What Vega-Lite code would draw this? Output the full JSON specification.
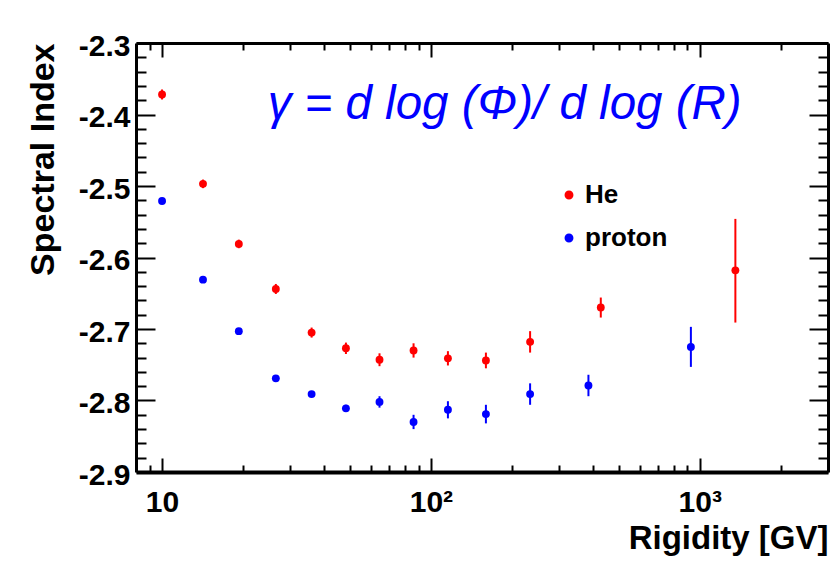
{
  "$schema": "https://vega.github.io/schema/vega-lite/v6.json",
  "width": 692,
  "height": 429,
  "autosize": {"type": "none"},
  "padding": {"left": 136, "top": 43, "right": 5, "bottom": 89},
  "background": "white",
  "config": {
    "view": {"stroke": null},
    "font": "Liberation Sans",
    "axis": {"grid": false, "labelFont": "Liberation Sans", "titleFont": "Liberation Sans", "labelColor": "black", "titleColor": "black", "domainColor": "black", "tickColor": "black", "labelFlush": false},
    "legend": {"labelFont": "Liberation Sans", "labelFontSize": 26, "labelFontWeight": "bold", "labelColor": "black"}
  },
  "data": {
    "values": [
      {"species": "He", "R": 10, "v": -2.372, "lo": -2.379, "hi": -2.365},
      {"species": "He", "R": 14.2, "v": -2.497, "lo": -2.503, "hi": -2.491},
      {"species": "He", "R": 19.3, "v": -2.581, "lo": -2.587, "hi": -2.575},
      {"species": "He", "R": 26.5, "v": -2.644, "lo": -2.651, "hi": -2.637},
      {"species": "He", "R": 36.0, "v": -2.705, "lo": -2.712, "hi": -2.698},
      {"species": "He", "R": 48.3, "v": -2.727, "lo": -2.735, "hi": -2.719},
      {"species": "He", "R": 64.4, "v": -2.743, "lo": -2.752, "hi": -2.734},
      {"species": "He", "R": 86.2, "v": -2.730, "lo": -2.740, "hi": -2.720},
      {"species": "He", "R": 115.7, "v": -2.741, "lo": -2.751, "hi": -2.731},
      {"species": "He", "R": 160.2, "v": -2.744, "lo": -2.755, "hi": -2.733},
      {"species": "He", "R": 233.9, "v": -2.718, "lo": -2.733, "hi": -2.703},
      {"species": "He", "R": 428.5, "v": -2.670, "lo": -2.684, "hi": -2.656},
      {"species": "He", "R": 1357, "v": -2.618, "lo": -2.691, "hi": -2.546},
      {"species": "proton", "R": 10, "v": -2.521, "lo": -2.525, "hi": -2.517},
      {"species": "proton", "R": 14.2, "v": -2.631, "lo": -2.635, "hi": -2.627},
      {"species": "proton", "R": 19.3, "v": -2.703, "lo": -2.707, "hi": -2.699},
      {"species": "proton", "R": 26.5, "v": -2.769, "lo": -2.773, "hi": -2.765},
      {"species": "proton", "R": 36.0, "v": -2.791, "lo": -2.795, "hi": -2.787},
      {"species": "proton", "R": 48.3, "v": -2.811, "lo": -2.816, "hi": -2.806},
      {"species": "proton", "R": 64.4, "v": -2.802, "lo": -2.810, "hi": -2.794},
      {"species": "proton", "R": 86.2, "v": -2.830, "lo": -2.840, "hi": -2.820},
      {"species": "proton", "R": 115.7, "v": -2.813, "lo": -2.825, "hi": -2.801},
      {"species": "proton", "R": 160.2, "v": -2.819, "lo": -2.832, "hi": -2.806},
      {"species": "proton", "R": 233.9, "v": -2.791, "lo": -2.806, "hi": -2.776},
      {"species": "proton", "R": 385.5, "v": -2.779, "lo": -2.794, "hi": -2.764},
      {"species": "proton", "R": 927, "v": -2.725, "lo": -2.753, "hi": -2.697}
    ]
  },
  "resolve": {"axis": {"x": "independent", "y": "independent"}},
  "layer": [
    {
      "mark": {"type": "rule", "strokeWidth": 2},
      "encoding": {
        "x": {
          "field": "R", "type": "quantitative",
          "scale": {"type": "log", "domain": [8, 3000], "nice": false},
          "axis": {
            "orient": "bottom", "labels": false, "title": null,
            "values": [9, 10, 20, 30, 40, 50, 60, 70, 80, 90, 100, 200, 300, 400, 500, 600, 700, 800, 900, 1000, 2000],
            "tickSize": {"condition": {"test": "indexof([10,100,1000], datum.value) >= 0", "value": -14}, "value": -7},
            "tickWidth": 2, "domainWidth": 4
          }
        },
        "y": {
          "field": "lo", "type": "quantitative",
          "scale": {"domain": [-2.9, -2.3], "nice": false, "zero": false},
          "axis": {
            "orient": "left", "labels": false, "title": null,
            "values": [-2.9, -2.88, -2.86, -2.84, -2.82, -2.8, -2.78, -2.76, -2.74, -2.72, -2.7, -2.68, -2.66, -2.64, -2.62, -2.6, -2.58, -2.56, -2.54, -2.52, -2.5, -2.48, -2.46, -2.44, -2.42, -2.4, -2.38, -2.36, -2.34, -2.32, -2.3],
            "tickSize": {"condition": {"test": "abs(datum.value*10 - round(datum.value*10)) < 0.01", "value": -19}, "value": -10},
            "tickWidth": 2, "domainWidth": 3
          }
        },
        "y2": {"field": "hi"},
        "color": {
          "field": "species", "type": "nominal",
          "scale": {"domain": ["He", "proton"], "range": ["#ff0000", "#0000ff"]},
          "legend": {"orient": "none", "legendX": 420, "legendY": 139, "title": null, "symbolType": "circle", "symbolSize": 55, "labelOffset": 3, "rowPadding": 17}
        }
      }
    },
    {
      "mark": {"type": "circle", "size": 62, "opacity": 1},
      "encoding": {
        "x": {
          "field": "R", "type": "quantitative",
          "scale": {"type": "log", "domain": [8, 3000], "nice": false},
          "axis": {
            "orient": "bottom", "ticks": false, "domain": false,
            "values": [10, 100, 1000],
            "labelExpr": "datum.value == 10 ? '10' : (datum.value == 100 ? '10²' : '10³')",
            "labelFontSize": 30, "labelFontWeight": "bold", "labelPadding": 15, "labelBaseline": "top",
            "title": "Rigidity [GV]", "titleFontSize": 33, "titleFontWeight": "bold",
            "titleX": 692, "titleY": 50, "titleAlign": "right", "titleAnchor": "end", "titleBaseline": "top"
          }
        },
        "y": {
          "field": "v", "type": "quantitative",
          "scale": {"domain": [-2.9, -2.3], "nice": false, "zero": false},
          "axis": {
            "orient": "left", "ticks": false, "domain": false,
            "values": [-2.9, -2.8, -2.7, -2.6, -2.5, -2.4, -2.3],
            "labelExpr": "'-' + format(-datum.value, '.1f')",
            "labelFontSize": 30, "labelFontWeight": "bold", "labelPadding": 6, "labelOffset": 3,
            "title": "Spectral Index", "titleFontSize": 34, "titleFontWeight": "bold",
            "titleAngle": 270, "titleX": -83, "titleY": 0, "titleAlign": "right", "titleBaseline": "alphabetic"
          }
        },
        "color": {
          "field": "species", "type": "nominal",
          "scale": {"domain": ["He", "proton"], "range": ["#ff0000", "#0000ff"]},
          "legend": {"orient": "none", "legendX": 420, "legendY": 139, "title": null, "symbolType": "circle", "symbolSize": 55, "labelOffset": 3, "rowPadding": 17}
        }
      }
    },
    {
      "data": {"values": [{"label": "γ = d log (Φ)/ d log (R)"}]},
      "mark": {"type": "text", "align": "left", "baseline": "alphabetic", "font": "Liberation Sans", "fontStyle": "italic", "fontSize": 47.5, "color": "#0000ff"},
      "encoding": {
        "text": {"field": "label"},
        "x": {
          "datum": 24.7, "type": "quantitative",
          "scale": {"type": "log", "domain": [8, 3000], "nice": false},
          "axis": {
            "orient": "top", "labels": false, "title": null,
            "values": [9, 10, 20, 30, 40, 50, 60, 70, 80, 90, 100, 200, 300, 400, 500, 600, 700, 800, 900, 1000, 2000],
            "tickSize": {"condition": {"test": "indexof([10,100,1000], datum.value) >= 0", "value": -14}, "value": -7},
            "tickWidth": 2, "domainWidth": 3
          }
        },
        "y": {
          "datum": -2.406, "type": "quantitative",
          "scale": {"domain": [-2.9, -2.3], "nice": false, "zero": false},
          "axis": {
            "orient": "right", "labels": false, "title": null,
            "values": [-2.9, -2.88, -2.86, -2.84, -2.82, -2.8, -2.78, -2.76, -2.74, -2.72, -2.7, -2.68, -2.66, -2.64, -2.62, -2.6, -2.58, -2.56, -2.54, -2.52, -2.5, -2.48, -2.46, -2.44, -2.42, -2.4, -2.38, -2.36, -2.34, -2.32, -2.3],
            "tickSize": {"condition": {"test": "abs(datum.value*10 - round(datum.value*10)) < 0.01", "value": -19}, "value": -10},
            "tickWidth": 2, "domainWidth": 3
          }
        }
      }
    }
  ]
}
